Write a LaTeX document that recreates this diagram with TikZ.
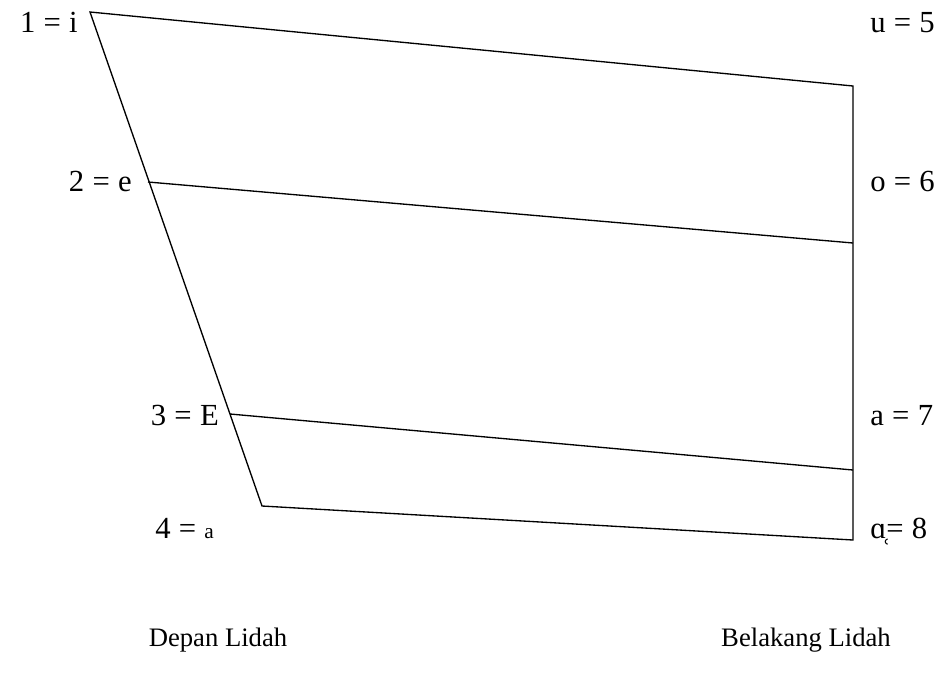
\documentclass[tikz,border=0pt]{standalone}
\usepackage{fontspec}
\setmainfont{Liberation Serif}
\usetikzlibrary{positioning}
\newcommand{\eqs}{\hspace{0.27em}=\hspace{0.27em}}
\tikzset{
  every node/.style={font=\fontsize{23}{27}\selectfont,inner sep=0pt},
  edge/.style={draw=black,line width=1pt},
  leftlbl/.style={anchor=base east},
  rightlbl/.style={anchor=base west},
  foot/.style={anchor=base,font=\fontsize{20}{24}\selectfont},
}
\begin{document}
\begin{tikzpicture}[x=0.75pt,y=-0.75pt]
\useasboundingbox (0,0) rectangle (948,686);
% corners of the vowel chart
\coordinate (i) at (90,12);
\coordinate (u) at (853,86);
\coordinate (e) at (148,182);
\coordinate (o) at (853,243);
\coordinate (E) at (230,414);
\coordinate (a) at (853,470);
\coordinate (aa) at (262,506);
\coordinate (al) at (853,540);
\draw[edge] (e) -- (o);
\draw[edge] (E) -- (a);
\draw[edge] (i) -- (aa) -- (al) -- (u) -- cycle;
% labels
\node[leftlbl] (l1) at (78,32) {1\eqs i};
\node[leftlbl] (l2) at (132,191) {2\eqs e};
\node[leftlbl] (l3) at (219,425) {3\eqs E};
\node[anchor=base west] (l4) at (155,538) {4\eqs{\fontsize{16}{18}\selectfont a}};
\node[rightlbl] (r5) at (870,32) {u\eqs 5};
\node[rightlbl] (r6) at (870,191) {o\eqs 6};
\node[rightlbl] (r7) at (870,425) {a\eqs 7};
\node[rightlbl] (r8) at (870,538) {ɑ̜=\hspace{0.27em}8};
\node[foot] (front) at (218,646) {Depan Lidah};
\node[foot] (back) at (806,646) {Belakang Lidah};
\end{tikzpicture}
\end{document}
